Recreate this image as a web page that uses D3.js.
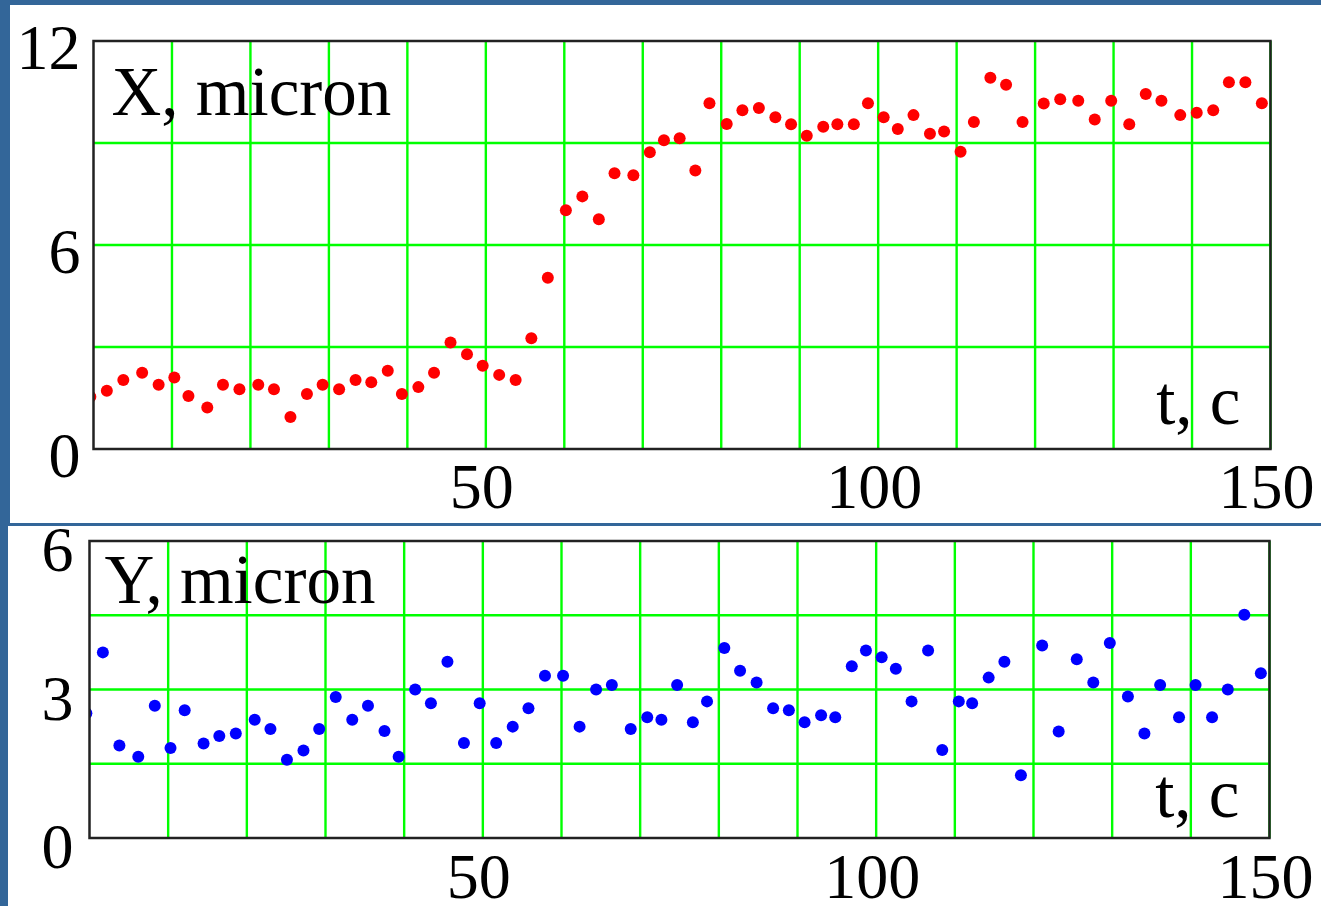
<!DOCTYPE html>
<html>
<head>
<meta charset="utf-8">
<script src="https://cdn.jsdelivr.net/npm/d3@7"></script>
<style>
  body { margin: 0; background: #336699; }
  svg { display: block; }
  text { font-family: "Liberation Serif", "Times New Roman", serif; fill: #000; }
</style>
</head>
<body>
<script>
// time of each frame, seconds (same frames in both plots)
const T_SEC = [-0.4, 1.7, 3.8, 6.2, 8.3, 10.3, 12.1, 14.5, 16.5, 18.6,
  21.0, 23.0, 25.1, 27.2, 29.2, 31.3, 33.4, 35.4, 37.5, 39.3,
  41.4, 43.4, 45.5, 47.6, 49.6, 51.7, 53.8, 55.8, 57.9, 60.2,
  62.3, 64.4, 66.4, 68.8, 70.9, 72.7, 74.7, 76.7, 78.5, 80.7,
  82.7, 84.8, 86.9, 88.9, 90.9, 93.0, 94.8, 96.9, 98.7, 100.7,
  102.5, 104.5, 106.6, 108.4, 110.5, 112.2, 114.3, 116.3, 118.4, 121.1,
  123.2, 125.5, 127.6, 129.7, 132.0, 134.1, 136.1, 138.5, 140.6, 142.7,
  144.7, 146.8, 148.9];

const X_MICRON = [1.54, 1.71, 2.03, 2.24, 1.89, 2.10, 1.56, 1.22, 1.89, 1.76,
  1.89, 1.76, 0.94, 1.62, 1.89, 1.76, 2.03, 1.96, 2.30, 1.62,
  1.82, 2.24, 3.13, 2.79, 2.45, 2.18, 2.03, 3.26, 5.04, 7.02,
  7.43, 6.76, 8.11, 8.05, 8.73, 9.08, 9.14, 8.19, 10.17, 9.56,
  9.96, 10.03, 9.76, 9.55, 9.21, 9.48, 9.55, 9.55, 10.17, 9.76,
  9.41, 9.82, 9.27, 9.34, 8.74, 9.62, 10.92, 10.71, 9.62, 10.16,
  10.29, 10.24, 9.69, 10.24, 9.55, 10.44, 10.24, 9.82, 9.89, 9.96,
  10.79, 10.79, 10.17];

const Y_MICRON = [2.52, 3.75, 1.87, 1.64, 2.67, 1.82, 2.58, 1.91, 2.06, 2.11,
  2.39, 2.20, 1.58, 1.77, 2.20, 2.85, 2.39, 2.67, 2.16, 1.64,
  3.00, 2.72, 3.56, 1.92, 2.72, 1.92, 2.25, 2.62, 3.28, 3.28,
  2.25, 3.00, 3.09, 2.20, 2.44, 2.39, 3.09, 2.34, 2.76, 3.84,
  3.38, 3.14, 2.62, 2.58, 2.34, 2.48, 2.44, 3.47, 3.79, 3.65,
  3.42, 2.76, 3.79, 1.78, 2.76, 2.72, 3.24, 3.56, 1.27, 3.89,
  2.15, 3.61, 3.14, 3.94, 2.86, 2.11, 3.09, 2.44, 3.09, 2.44,
  3.00, 4.51, 3.33];

const T_LABELS = [50, 100, 150];
const X_LABELS = [0, 6, 12];
const X_GRID = [3, 6, 9];
const Y_LABELS = [0, 3, 6];
const Y_GRID = [1.5, 3, 4.5];

document.addEventListener("DOMContentLoaded", () => {
  const w = 1321;
  const h = 906;

  const svg = d3.select("body")
    .append("svg")
    .attr("width", w)
    .attr("height", h);

  svg.append("rect")
    .attr("width", w)
    .attr("height", h)
    .attr("fill", "#336699");

  const defs = svg.append("defs");

  drawPanel({
    id: "px",
    panel: { x: 10, y: 5, w: 1311, h: 518 },
    left: 93.5, right: 1270.5, top: 41, bottom: 449,
    yMax: 12, grid: X_GRID, yLabels: X_LABELS,
    values: X_MICRON, color: "#ff0000",
    title: "X, micron", titleDx: 18, titleDy: 74, unitDy: 25,
    labelGap: 13, labelDy: 28, tickDy: 59
  });

  drawPanel({
    id: "py",
    panel: { x: 8, y: 526, w: 1313, h: 380 },
    left: 89.5, right: 1269.5, top: 541, bottom: 838,
    yMax: 6, grid: Y_GRID, yLabels: Y_LABELS,
    values: Y_MICRON, color: "#0000ff",
    title: "Y, micron", titleDx: 15, titleDy: 62, unitDy: 21,
    labelGap: 16, labelDy: 30, tickDy: 60
  });

  function drawPanel(p) {
    const x = d3.scaleLinear().domain([0, 150]).range([p.left, p.right]);
    const y = d3.scaleLinear().domain([0, p.yMax]).range([p.bottom, p.top]);

    defs.append("clipPath").attr("id", p.id + "-panel")
      .append("rect")
      .attr("x", p.panel.x).attr("y", p.panel.y)
      .attr("width", p.panel.w).attr("height", p.panel.h);

    defs.append("clipPath").attr("id", p.id + "-plot")
      .append("rect")
      .attr("x", p.left).attr("y", p.top)
      .attr("width", p.right - p.left).attr("height", p.bottom - p.top);

    const g = svg.append("g").attr("clip-path", `url(#${p.id}-panel)`);

    g.append("rect")
      .attr("x", p.panel.x).attr("y", p.panel.y)
      .attr("width", p.panel.w).attr("height", p.panel.h)
      .attr("fill", "#fff");

    // green grid
    g.append("g").selectAll("line")
      .data(x.ticks(15).filter((d) => d > 0))
      .join("line")
      .attr("x1", (d) => x(d)).attr("x2", (d) => x(d))
      .attr("y1", p.top).attr("y2", p.bottom)
      .attr("stroke", "#00ff00").attr("stroke-width", 2.4);

    g.append("g").selectAll("line")
      .data(p.grid)
      .join("line")
      .attr("x1", p.left).attr("x2", p.right)
      .attr("y1", (d) => y(d)).attr("y2", (d) => y(d))
      .attr("stroke", "#00ff00").attr("stroke-width", 2.4);

    // points
    g.append("g")
      .attr("clip-path", `url(#${p.id}-plot)`)
      .selectAll("circle")
      .data(p.values)
      .join("circle")
      .attr("cx", (d, i) => x(T_SEC[i]))
      .attr("cy", (d) => y(d))
      .attr("r", 6)
      .attr("fill", p.color);

    // frame
    g.append("rect")
      .attr("x", p.left).attr("y", p.top)
      .attr("width", p.right - p.left).attr("height", p.bottom - p.top)
      .attr("fill", "none")
      .attr("stroke", "#222")
      .attr("stroke-width", 2.5);

    g.append("g").selectAll("text")
      .data(p.yLabels)
      .join("text")
      .attr("x", p.left - p.labelGap)
      .attr("y", (d) => y(d) + p.labelDy)
      .attr("text-anchor", "end")
      .attr("font-size", 64)
      .text((d) => d);

    g.append("g").selectAll("text")
      .data(T_LABELS)
      .join("text")
      .attr("x", (d) => x(d) - 4)
      .attr("y", p.bottom + p.tickDy)
      .attr("text-anchor", "middle")
      .attr("font-size", 64)
      .text((d) => d);

    g.append("text")
      .attr("x", p.left + p.titleDx)
      .attr("y", p.top + p.titleDy)
      .attr("font-size", 69)
      .text(p.title);

    g.append("text")
      .attr("x", p.right - 30)
      .attr("y", p.bottom - p.unitDy)
      .attr("text-anchor", "end")
      .attr("font-size", 69)
      .text("t, c");
  }
});
</script>
</body>
</html>
